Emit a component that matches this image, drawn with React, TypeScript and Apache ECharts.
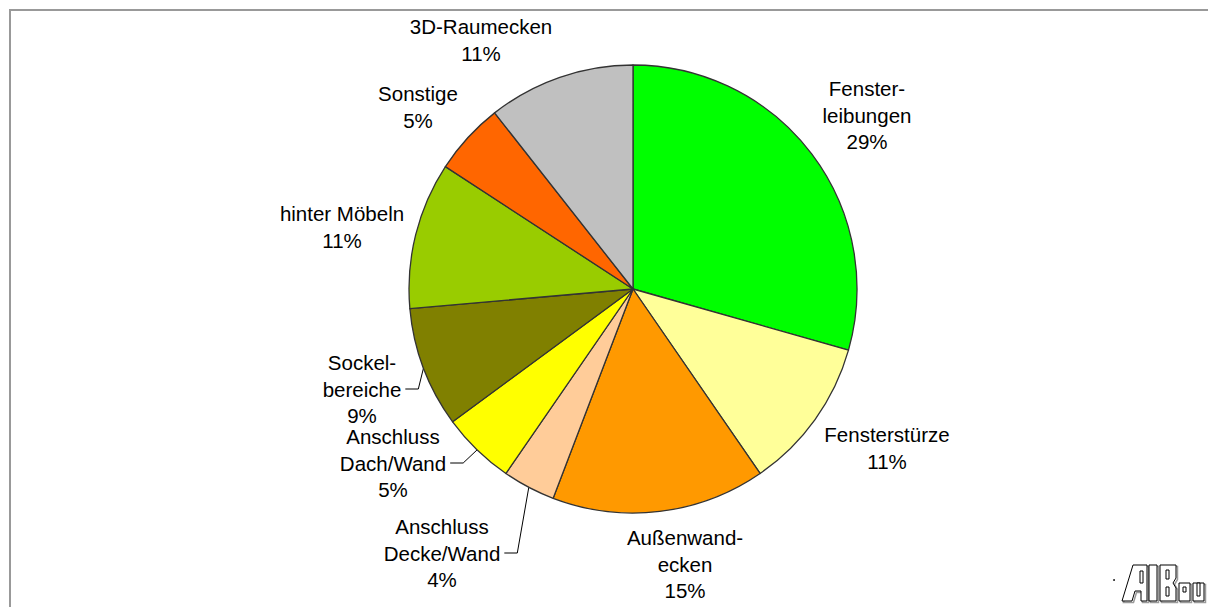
import React, { useEffect, useRef } from "react";
import * as echarts from "echarts";

const categories = [
  "Fenster-\nleibungen",
  "Fensterstürze",
  "Außenwand-\necken",
  "Anschluss\nDecke/Wand",
  "Anschluss\nDach/Wand",
  "Sockel-\nbereiche",
  "hinter Möbeln",
  "Sonstige",
  "3D-Raumecken",
];
const shares = [29.4, 11.0, 15.4, 3.8, 5.3, 8.7, 10.6, 5.2, 10.6];
const colors = [
  "#00FF00",
  "#FFFF99",
  "#FF9900",
  "#FFCC99",
  "#FFFF00",
  "#808000",
  "#99CC00",
  "#FF6600",
  "#C0C0C0",
];
const withLeader = [false, false, false, true, true, true, false, false, false];

// layout (label centres, px)
const CX = 633;
const CY = 289;
const R = 224;
const labelPos = [
  [867, 115],
  [887, 448],
  [685, 564],
  [442, 553],
  [393, 463],
  [362, 389],
  [342, 227],
  [418, 107],
  [481, 40],
];

function midPoint(i: number) {
  const total = shares.reduce((a, b) => a + b, 0);
  let acc = 0;
  for (let k = 0; k < i; k++) acc += shares[k];
  const frac = (acc + shares[i] / 2) / total;
  const a = frac * Math.PI * 2;
  return [CX + R * Math.sin(a), CY - R * Math.cos(a)];
}

const logoShadow = "#9a9a9a";
function logoPart(points: number[][]) {
  return [
    {
      type: "polygon",
      shape: { points: points.map((p) => [p[0] + 1.5, p[1] + 1.5]) },
      style: { fill: "none", stroke: logoShadow, lineWidth: 1.5 },
    },
    {
      type: "polygon",
      shape: { points },
      style: { fill: "#fff", stroke: "#000", lineWidth: 1 },
    },
  ];
}
function logoHole(x: number, y: number, w: number, h: number) {
  return {
    type: "rect",
    shape: { x, y, width: w, height: h },
    style: { fill: "#fff", stroke: "#000", lineWidth: 1 },
  };
}

export default function App() {
  const ref = useRef<HTMLDivElement>(null);
  useEffect(() => {
    if (!ref.current) return;
    const chart = echarts.init(ref.current, null, { renderer: "svg" });
    const data = categories.map((name, i) => ({
      name,
      value: shares[i],
      itemStyle: { color: colors[i] },
      labelLine: { show: withLeader[i] },
    }));
    chart.setOption({
      animation: false,
      backgroundColor: "#fff",
      graphic: [
        {
          type: "rect",
          shape: { x: 10, y: 10, width: 1400, height: 800 },
          style: { fill: "none", stroke: "#999", lineWidth: 2 },
          silent: true,
        },
        {
          type: "circle",
          shape: { cx: 1114, cy: 580, r: 0.9 },
          style: { fill: "#000" },
        },
        ...logoPart([
          [1122, 601],
          [1133, 565],
          [1147, 565],
          [1147, 601],
          [1141, 601],
          [1141, 591],
          [1135, 591],
          [1132, 601],
        ]),
        logoHole(1140, 571, 3, 12),
        ...logoPart([
          [1149, 565],
          [1157, 565],
          [1157, 601],
          [1149, 601],
        ]),
        ...logoPart([
          [1160, 565],
          [1176, 565],
          [1176, 578],
          [1173, 583],
          [1176, 588],
          [1176, 601],
          [1160, 601],
        ]),
        logoHole(1166, 570, 3, 9),
        logoHole(1166, 587, 3, 9),
        ...logoPart([
          [1179, 583],
          [1190, 583],
          [1190, 601],
          [1179, 601],
        ]),
        logoHole(1183, 587, 3, 5),
        ...logoPart([
          [1193, 583],
          [1204, 583],
          [1204, 601],
          [1193, 601],
        ]),
        logoHole(1197, 583, 3, 13),
      ],
      series: [
        {
          type: "pie",
          center: [CX, CY],
          radius: R,
          startAngle: 90,
          clockwise: true,
          avoidLabelOverlap: false,
          itemStyle: { borderColor: "#333", borderWidth: 1.3 },
          emphasis: { disabled: true },
          label: {
            show: true,
            position: "outside",
            formatter: (p: any) => `${p.name}\n${Math.round(p.percent)}%`,
            fontFamily: "Liberation Sans, Arial, sans-serif",
            fontSize: 20.5,
            lineHeight: 26.5,
            color: "#000",
            align: "center",
          },
          labelLine: {
            show: false,
            lineStyle: { color: "#000", width: 1 },
          },
          labelLayout: (params: any) => {
            const i = params.dataIndex;
            const [x, y] = labelPos[i];
            const out: any = { x, y, align: "center", verticalAlign: "middle" };
            if (withLeader[i]) {
              const w = params.labelRect.width;
              const endX = x + w / 2 + 4;
              const bendX = endX + 13;
              out.labelLinePoints = [midPoint(i), [bendX, y], [endX, y]];
            }
            return out;
          },
          data,
        },
      ],
    });
    return () => chart.dispose();
  }, []);
  return (
    <div
      ref={ref}
      style={{ position: "fixed", left: 0, top: 0, width: 1208, height: 607 }}
    />
  );
}
